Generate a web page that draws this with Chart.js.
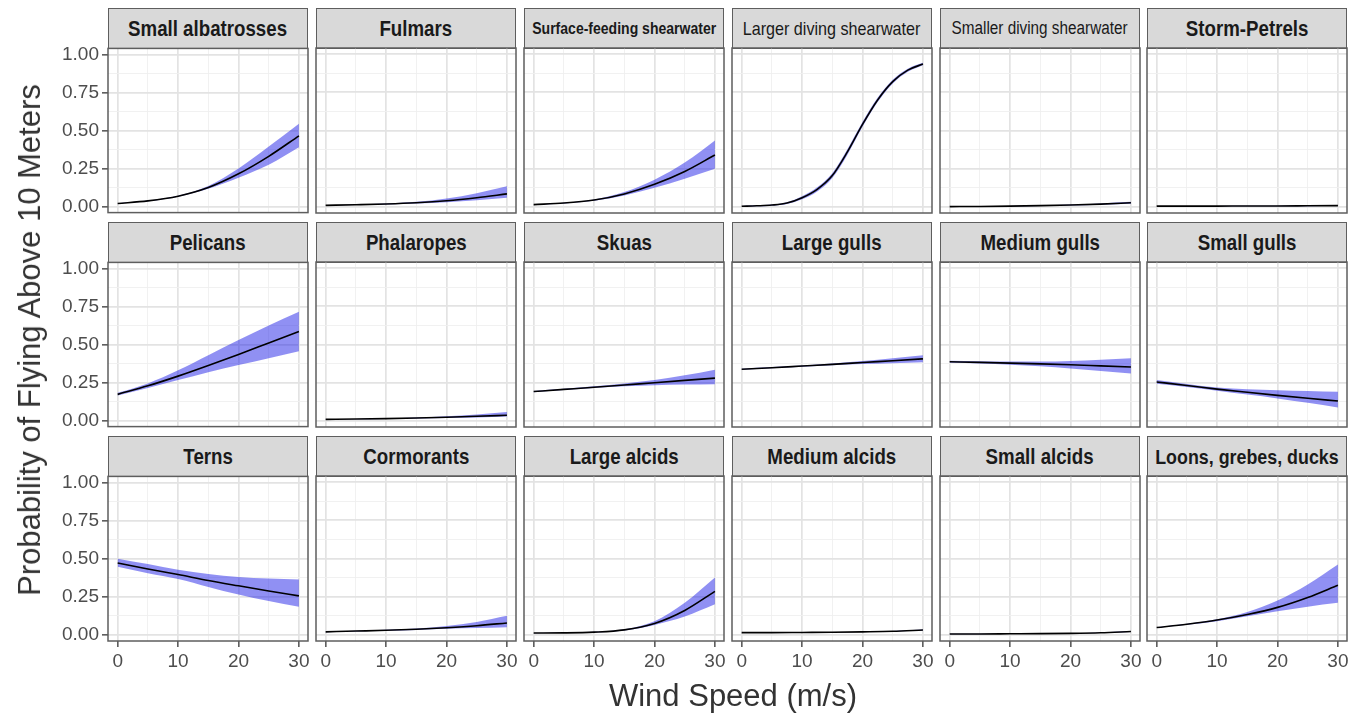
<!DOCTYPE html>
<html>
<head>
<meta charset="utf-8">
<script src="https://cdn.jsdelivr.net/npm/chart.js@4.4.1/dist/chart.umd.min.js"></script>
<style>
  body { margin: 0; background: #fff; }
  #wrap { position: relative; width: 1361px; height: 717px; overflow: hidden; }
  .strip {
    position: absolute; box-sizing: border-box; background: #d9d9d9;
    border: 1.5px solid #5e5e5e; display: flex; align-items: center; justify-content: center;
    font-family: "Liberation Sans", Arial, sans-serif;
    font-weight: bold; color: #1a1a1a; white-space: nowrap;
  }
  .strip span { display: inline-block; transform: scaleX(0.85); }
  .panel { position: absolute; }
  .axis-title {
    position: absolute; font-family: "Liberation Sans", Arial, sans-serif; font-size: 31px;
    color: #333; white-space: nowrap; transform: translate(-50%, -50%);
  }
</style>
</head>
<body>
<div id="wrap"></div>
<script>
const windSpeed = [0, 5, 10, 15, 20, 25, 30];
const windSpeedFine = [0, 2.5, 5, 7.5, 10, 12.5, 15, 17.5, 20, 22.5, 25, 27.5, 30];

const groups = [
  "Small albatrosses", "Fulmars", "Surface-feeding shearwater",
  "Larger diving shearwater", "Smaller diving shearwater", "Storm-Petrels",
  "Pelicans", "Phalaropes", "Skuas", "Large gulls", "Medium gulls", "Small gulls",
  "Terns", "Cormorants", "Large alcids", "Medium alcids", "Small alcids", "Loons, grebes, ducks"
];

// fitted probability of flying above 10 m
const fitValues = [
  [0.02, 0.037, 0.068, 0.125, 0.215, 0.33, 0.465],
  [0.01, 0.014, 0.019, 0.027, 0.04, 0.06, 0.085],
  [0.015, 0.025, 0.045, 0.085, 0.148, 0.232, 0.34],
  [0.004, 0.007, 0.012, 0.025, 0.06, 0.115, 0.205, 0.36, 0.54, 0.70, 0.82, 0.895, 0.935],
  [0.002, 0.003, 0.005, 0.008, 0.012, 0.018, 0.027],
  [0.005, 0.005, 0.005, 0.006, 0.006, 0.007, 0.008],
  [0.172, 0.228, 0.292, 0.362, 0.435, 0.51, 0.585],
  [0.01, 0.012, 0.015, 0.019, 0.024, 0.03, 0.037],
  [0.192, 0.206, 0.22, 0.235, 0.25, 0.265, 0.28],
  [0.338, 0.348, 0.359, 0.37, 0.382, 0.394, 0.406],
  [0.387, 0.383, 0.378, 0.373, 0.367, 0.36, 0.353],
  [0.255, 0.232, 0.208, 0.187, 0.167, 0.148, 0.13],
  [0.472, 0.433, 0.396, 0.357, 0.322, 0.288, 0.256],
  [0.02, 0.025, 0.03, 0.037, 0.047, 0.06, 0.078],
  [0.012, 0.013, 0.018, 0.033, 0.075, 0.16, 0.285],
  [0.015, 0.015, 0.016, 0.017, 0.02, 0.024, 0.032],
  [0.006, 0.006, 0.007, 0.008, 0.01, 0.014, 0.022],
  [0.048, 0.07, 0.097, 0.133, 0.18, 0.245, 0.325]
];

// lower edge of the confidence band
const lowerValues = [
  [0.019, 0.035, 0.065, 0.117, 0.19, 0.275, 0.39],
  [0.009, 0.012, 0.016, 0.022, 0.03, 0.043, 0.06],
  [0.014, 0.023, 0.041, 0.075, 0.125, 0.185, 0.25],
  [0.002, 0.004, 0.008, 0.019, 0.05, 0.101, 0.189, 0.342, 0.524, 0.686, 0.808, 0.885, 0.927],
  [0.001, 0.002, 0.004, 0.006, 0.009, 0.014, 0.02],
  [0.004, 0.004, 0.004, 0.005, 0.005, 0.005, 0.006],
  [0.164, 0.214, 0.266, 0.318, 0.365, 0.41, 0.455],
  [0.009, 0.011, 0.013, 0.016, 0.019, 0.023, 0.028],
  [0.188, 0.202, 0.215, 0.226, 0.234, 0.238, 0.24],
  [0.334, 0.344, 0.355, 0.364, 0.372, 0.378, 0.384],
  [0.381, 0.376, 0.368, 0.357, 0.343, 0.327, 0.31],
  [0.243, 0.222, 0.197, 0.172, 0.147, 0.118, 0.088],
  [0.448, 0.405, 0.367, 0.315, 0.265, 0.222, 0.184],
  [0.018, 0.023, 0.027, 0.032, 0.04, 0.045, 0.05],
  [0.011, 0.012, 0.015, 0.028, 0.065, 0.12, 0.2],
  [0.014, 0.014, 0.015, 0.016, 0.019, 0.022, 0.029],
  [0.005, 0.005, 0.006, 0.007, 0.009, 0.012, 0.019],
  [0.046, 0.066, 0.09, 0.122, 0.155, 0.185, 0.21]
];

// upper edge of the confidence band
const upperValues = [
  [0.021, 0.039, 0.071, 0.135, 0.25, 0.395, 0.545],
  [0.011, 0.016, 0.022, 0.033, 0.055, 0.09, 0.135],
  [0.016, 0.027, 0.049, 0.097, 0.178, 0.29, 0.435],
  [0.006, 0.01, 0.016, 0.031, 0.07, 0.129, 0.221, 0.378, 0.556, 0.714, 0.832, 0.905, 0.943],
  [0.003, 0.004, 0.006, 0.01, 0.015, 0.023, 0.034],
  [0.006, 0.006, 0.006, 0.007, 0.008, 0.009, 0.011],
  [0.182, 0.244, 0.33, 0.43, 0.53, 0.625, 0.715],
  [0.011, 0.013, 0.017, 0.022, 0.03, 0.042, 0.058],
  [0.196, 0.21, 0.227, 0.245, 0.268, 0.298, 0.335],
  [0.342, 0.352, 0.363, 0.376, 0.392, 0.41, 0.43],
  [0.393, 0.39, 0.388, 0.388, 0.392, 0.4, 0.41],
  [0.268, 0.242, 0.218, 0.207, 0.2, 0.195, 0.19],
  [0.50, 0.465, 0.428, 0.40, 0.38, 0.37, 0.363],
  [0.022, 0.027, 0.033, 0.042, 0.058, 0.085, 0.125],
  [0.013, 0.015, 0.02, 0.037, 0.09, 0.21, 0.375],
  [0.016, 0.016, 0.017, 0.018, 0.021, 0.026, 0.035],
  [0.007, 0.007, 0.008, 0.009, 0.011, 0.016, 0.025],
  [0.05, 0.073, 0.103, 0.15, 0.225, 0.33, 0.46]
];

const xTicks = [0, 10, 20, 30];
const xMinor = [5, 15, 25];
const yTicks = [0, 0.25, 0.5, 0.75, 1];
const yMinor = [0.125, 0.375, 0.625, 0.875];

// layout of the facet grid
const colLeft = [108, 316, 524, 732, 940, 1147];
const stripTop = [8, 222, 436];
const plotTop = [48, 262, 476];
const PW = 200, PH = 165, SH = 40;
const tickFont = { family: "Liberation Sans, Arial, sans-serif", size: 19 };
const normalWeight = ["Larger diving shearwater", "Smaller diving shearwater"];

const wrap = document.getElementById("wrap");

const panelBox = {
  id: "panelBox",
  afterDraw(chart) {
    const { ctx, chartArea: a } = chart;
    ctx.save();
    ctx.strokeStyle = "#5e5e5e";
    ctx.lineWidth = 1.5;
    ctx.strokeRect(a.left, a.top, a.right - a.left, a.bottom - a.top);
    ctx.restore();
  }
};

function fitStrip(div, maxW) {
  let size = 22;
  div.style.fontSize = size + "px";
  const span = div.firstChild;
  while (span.offsetWidth * 0.85 > maxW && size > 10) {
    size -= 0.5;
    div.style.fontSize = size + "px";
  }
}

groups.forEach((name, i) => {
  const r = Math.floor(i / 6), c = i % 6;

  const strip = document.createElement("div");
  strip.className = "strip";
  strip.style.left = colLeft[c] + "px";
  strip.style.top = stripTop[r] + "px";
  strip.style.width = PW + "px";
  strip.style.height = (SH + 1) + "px";
  if (normalWeight.includes(name)) strip.style.fontWeight = "normal";
  const span = document.createElement("span");
  span.textContent = name;
  strip.appendChild(span);
  wrap.appendChild(strip);
  fitStrip(strip, normalWeight.includes(name) ? 178 : 184);

  const yw = c === 0 ? 62 : 0;
  const xh = r === 2 ? 42 : 0;
  const padX = 16, padY = 14;
  const canvas = document.createElement("canvas");
  canvas.className = "panel";
  canvas.width = PW + yw + 2 * padX;
  canvas.height = PH + xh + 2 * padY;
  canvas.style.left = (colLeft[c] - yw - padX) + "px";
  canvas.style.top = (plotTop[r] - padY) + "px";
  wrap.appendChild(canvas);

  const xs = fitValues[i].length === windSpeedFine.length ? windSpeedFine : windSpeed;
  const pts = arr => arr.map((v, k) => ({ x: xs[k], y: v }));

  const xMajor = v => xTicks.includes(v);
  const yMajor = v => yTicks.includes(v);

  new Chart(canvas, {
    type: "line",
    data: {
      datasets: [
        { data: pts(fitValues[i]), borderColor: "#000", borderWidth: 1.6, pointRadius: 0,
          fill: false, cubicInterpolationMode: "monotone" },
        { data: pts(upperValues[i]), borderColor: "rgba(0,0,0,0)", borderWidth: 0, pointRadius: 0,
          backgroundColor: "rgba(20,20,230,0.47)", fill: "+1", cubicInterpolationMode: "monotone" },
        { data: pts(lowerValues[i]), borderColor: "rgba(0,0,0,0)", borderWidth: 0, pointRadius: 0,
          fill: false, cubicInterpolationMode: "monotone" }
      ]
    },
    options: {
      responsive: false,
      animation: false,
      events: [],
      layout: { padding: { left: padX, right: padX, top: padY, bottom: padY } },
      plugins: { legend: { display: false }, tooltip: { enabled: false } },
      scales: {
        x: {
          type: "linear", min: -1.6, max: 31.5,
          afterBuildTicks: s => { s.ticks = [...xTicks, ...xMinor].sort((a, b) => a - b).map(v => ({ value: v })); },
          afterFit: s => { s.height = xh; },
          border: { display: false },
          grid: {
            color: ctx => ctx.tick && xMajor(ctx.tick.value) ? "#e3e3e3" : "#efefef",
            lineWidth: ctx => ctx.tick && xMajor(ctx.tick.value) ? 1.7 : 0.9,
            drawTicks: r === 2, tickLength: 6, tickWidth: 1.4,
            tickColor: ctx => ctx.tick && xMajor(ctx.tick.value) ? "#444" : "rgba(0,0,0,0)"
          },
          ticks: {
            display: r === 2, autoSkip: false, maxRotation: 0, minRotation: 0, padding: 3,
            font: tickFont, color: "#4d4d4d",
            callback: v => xMajor(v) ? String(v) : ""
          }
        },
        y: {
          type: "linear", min: -0.04, max: 1.04,
          afterBuildTicks: s => { s.ticks = [...yTicks, ...yMinor].sort((a, b) => a - b).map(v => ({ value: v })); },
          afterFit: s => { s.width = yw; },
          border: { display: false },
          grid: {
            color: ctx => ctx.tick && yMajor(ctx.tick.value) ? "#e3e3e3" : "#efefef",
            lineWidth: ctx => ctx.tick && yMajor(ctx.tick.value) ? 1.7 : 0.9,
            drawTicks: c === 0, tickLength: 6, tickWidth: 1.4,
            tickColor: ctx => ctx.tick && yMajor(ctx.tick.value) ? "#444" : "rgba(0,0,0,0)"
          },
          ticks: {
            display: c === 0, autoSkip: false, padding: 3,
            font: tickFont, color: "#4d4d4d",
            callback: v => yMajor(v) ? v.toFixed(2) : ""
          }
        }
      }
    },
    plugins: [panelBox]
  });
});

const yTitle = document.createElement("div");
yTitle.className = "axis-title";
yTitle.textContent = "Probability of Flying Above 10 Meters";
yTitle.style.left = "30px";
yTitle.style.top = "340px";
yTitle.style.transform = "translate(-50%, -50%) rotate(-90deg)";
wrap.appendChild(yTitle);

const xTitle = document.createElement("div");
xTitle.className = "axis-title";
xTitle.textContent = "Wind Speed (m/s)";
xTitle.style.left = "733px";
xTitle.style.top = "696px";
wrap.appendChild(xTitle);
</script>
</body>
</html>
